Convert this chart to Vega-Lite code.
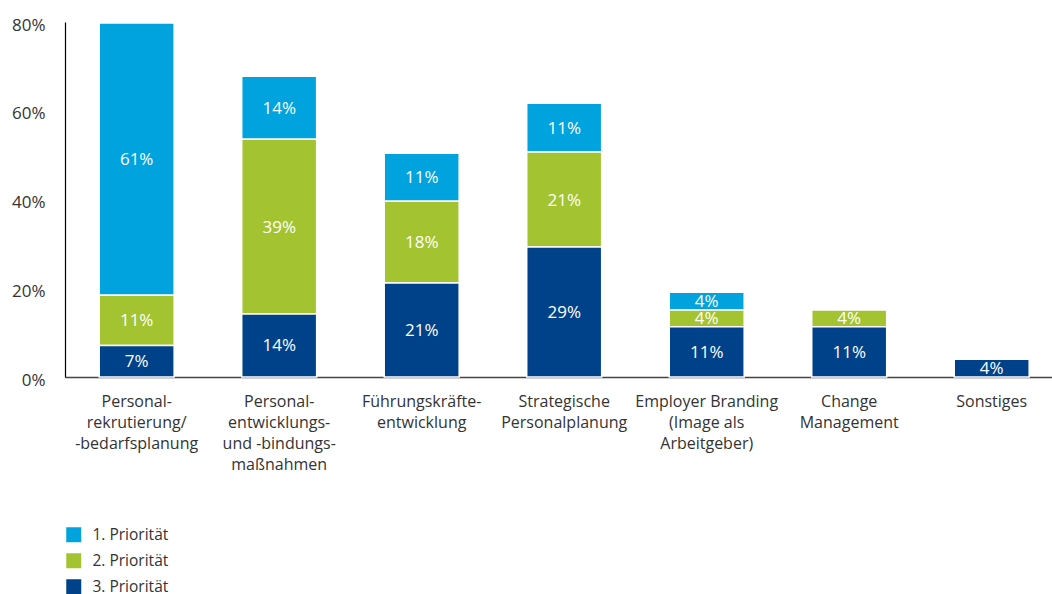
{
  "$schema": "https://vega.github.io/schema/vega-lite/v6.json",
  "autosize": "none",
  "width": 987,
  "height": 355,
  "padding": {"left": 65, "top": 22, "right": 0, "bottom": 217},
  "background": "white",
  "config": {
    "font": "Open Sans",
    "view": {"stroke": null}
  },
  "data": {
    "values": [
      {"cat": "Personal-|rekrutierung/|-bedarfsplanung", "prio": "1. Priorität", "value": 0.614},
      {"cat": "Personal-|rekrutierung/|-bedarfsplanung", "prio": "2. Priorität", "value": 0.113},
      {"cat": "Personal-|rekrutierung/|-bedarfsplanung", "prio": "3. Priorität", "value": 0.071},
      {"cat": "Personal-|entwicklungs-|und -bindungs-|maßnahmen", "prio": "1. Priorität", "value": 0.142},
      {"cat": "Personal-|entwicklungs-|und -bindungs-|maßnahmen", "prio": "2. Priorität", "value": 0.394},
      {"cat": "Personal-|entwicklungs-|und -bindungs-|maßnahmen", "prio": "3. Priorität", "value": 0.142},
      {"cat": "Führungskräfte-|entwicklung", "prio": "1. Priorität", "value": 0.108},
      {"cat": "Führungskräfte-|entwicklung", "prio": "2. Priorität", "value": 0.184},
      {"cat": "Führungskräfte-|entwicklung", "prio": "3. Priorität", "value": 0.212},
      {"cat": "Strategische|Personalplanung", "prio": "1. Priorität", "value": 0.110},
      {"cat": "Strategische|Personalplanung", "prio": "2. Priorität", "value": 0.214},
      {"cat": "Strategische|Personalplanung", "prio": "3. Priorität", "value": 0.293},
      {"cat": "Employer Branding|(Image als|Arbeitgeber)", "prio": "1. Priorität", "value": 0.040},
      {"cat": "Employer Branding|(Image als|Arbeitgeber)", "prio": "2. Priorität", "value": 0.038},
      {"cat": "Employer Branding|(Image als|Arbeitgeber)", "prio": "3. Priorität", "value": 0.113},
      {"cat": "Change|Management", "prio": "2. Priorität", "value": 0.038},
      {"cat": "Change|Management", "prio": "3. Priorität", "value": 0.113},
      {"cat": "Sonstiges", "prio": "3. Priorität", "value": 0.040}
    ]
  },
  "encoding": {
    "x": {
      "field": "cat",
      "type": "nominal",
      "sort": null,
      "scale": {"paddingInner": 0.474, "paddingOuter": 0.2, "align": 0.6},
      "axis": {
        "title": null,
        "labelAngle": 0,
        "labelExpr": "split(datum.label, '|')",
        "labelFontSize": 16,
        "labelColor": "#333333",
        "labelLineHeight": 21,
        "labelPadding": 16,
        "labelBaseline": "top",
        "ticks": false,
        "domainColor": "#444444",
        "domainWidth": 1.5,
        "labelLimit": 200
      }
    },
    "y": {
      "field": "value",
      "type": "quantitative",
      "stack": "zero",
      "scale": {"domain": [0, 0.8]},
      "axis": {
        "title": null,
        "values": [0, 0.2, 0.4, 0.6, 0.8],
        "format": ".0%",
        "grid": false,
        "ticks": false,
        "labelPadding": 20,
        "labelFontSize": 17,
        "labelColor": "#333333",
        "labelBaseline": "middle",
        "labelOffset": 3,
        "domainColor": "#000000",
        "domainWidth": 1.2
      }
    },
    "order": {"field": "prio", "sort": "descending"}
  },
  "layer": [
    {
      "mark": {"type": "bar", "stroke": "white", "strokeWidth": 1.5},
      "encoding": {
        "color": {
          "field": "prio",
          "type": "nominal",
          "scale": {
            "domain": ["1. Priorität", "2. Priorität", "3. Priorität"],
            "range": ["#00A3DE", "#A3C430", "#00428A"]
          },
          "legend": {
            "title": null,
            "orient": "none",
            "legendX": 1,
            "legendY": 505,
            "symbolType": "square",
            "symbolSize": 225,
            "symbolStrokeWidth": 0,
            "labelFontSize": 15.5,
            "labelColor": "#333333",
            "rowPadding": 9,
            "labelOffset": 11
          }
        }
      }
    },
    {
      "mark": {"type": "text", "color": "white", "fontSize": 17, "baseline": "middle", "dy": 1},
      "encoding": {
        "y": {"field": "value", "type": "quantitative", "stack": "zero", "bandPosition": 0.5},
        "text": {"field": "value", "type": "quantitative", "format": ".0%"}
      }
    }
  ]
}
